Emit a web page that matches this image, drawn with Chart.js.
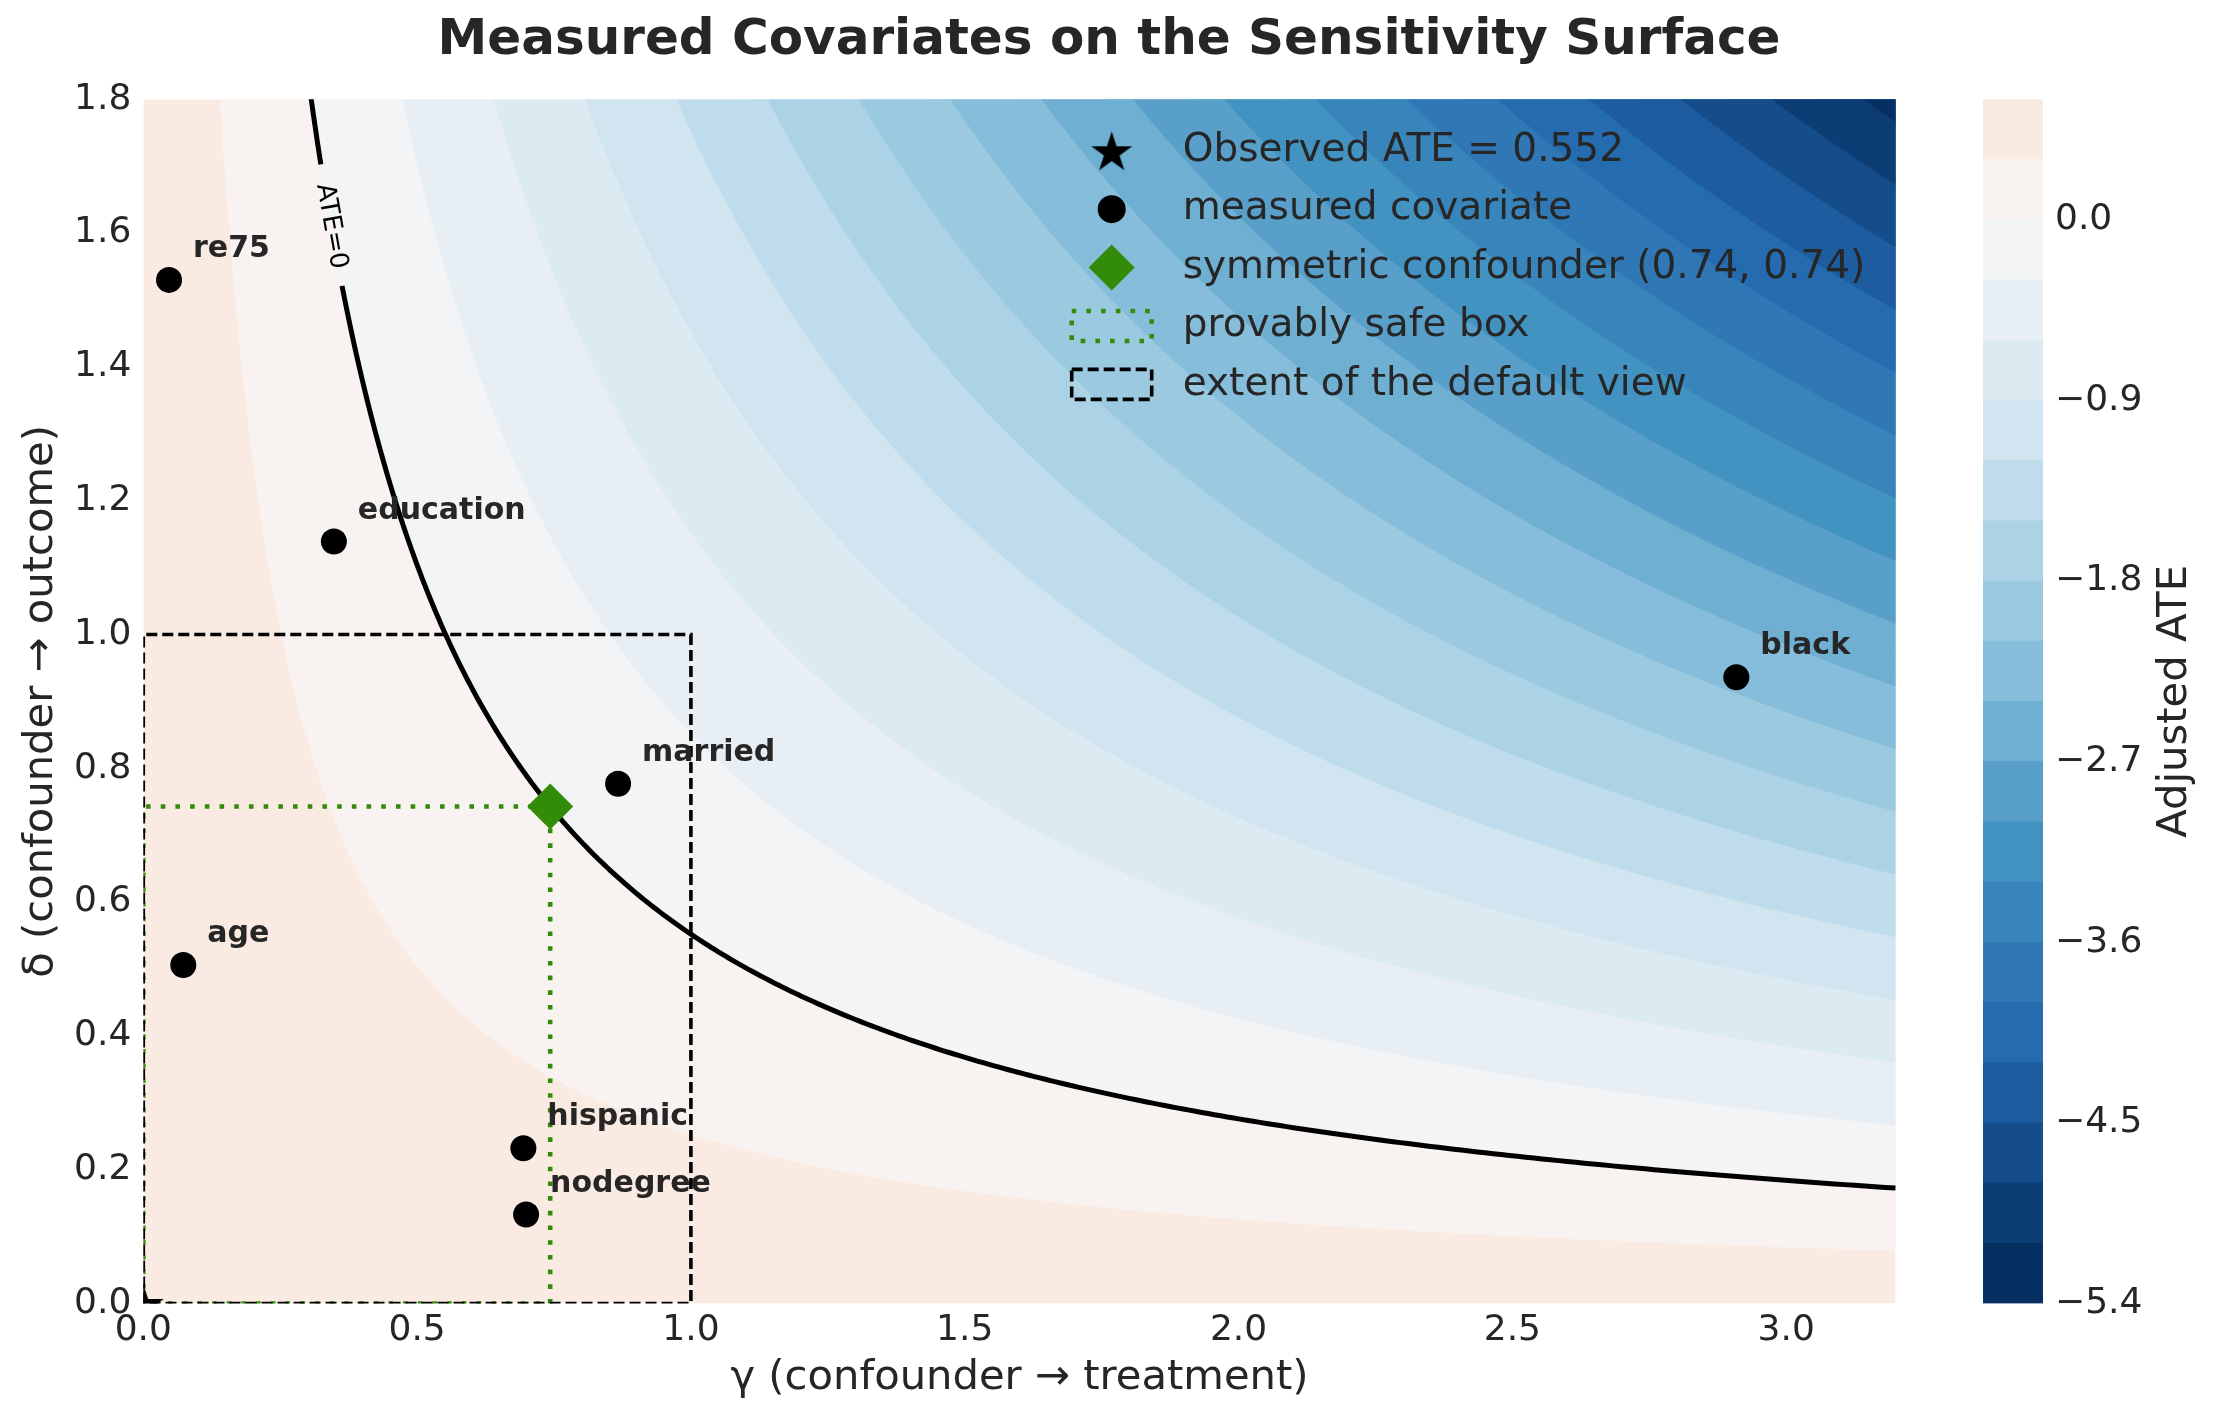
<!DOCTYPE html>
<html>
<head>
<meta charset="utf-8">
<title>Measured Covariates on the Sensitivity Surface</title>
<script src="https://cdn.jsdelivr.net/npm/chart.js@4.4.1/dist/chart.umd.min.js"></script>
<style>
  html, body { margin: 0; padding: 0; background: #fff; overflow: hidden; }
  #wrap { position: relative; width: 2218px; height: 1423px; }
  #wrap canvas { position: absolute; top: 0; }
  #main { left: 0; }
  #cbar { left: 1983px; }
</style>
</head>
<body>
<div id="wrap">
  <canvas id="main" width="2218" height="1423"></canvas>
  <canvas id="cbar" width="235" height="1423"></canvas>
</div>
<script>
// ---- values ----
const observedATE = 0.552;
const gammaMax = 3.2;
const deltaMax = 1.8;
const contourLevels = [-5.4, -5.1, -4.8, -4.5, -4.2, -3.9, -3.6, -3.3, -3.0, -2.7, -2.4,
                       -2.1, -1.8, -1.5, -1.2, -0.9, -0.6, -0.3, 0.0, 0.3, 0.6];
const covNames = ['re75', 'education', 'age', 'married', 'hispanic', 'nodegree', 'black'];
const covGamma = [0.047, 0.348, 0.073, 0.867, 0.694, 0.699, 2.909];
const covDelta = [1.530, 1.139, 0.506, 0.777, 0.232, 0.133, 0.936];
const symConfounder = [0.743, 0.743];
const defaultView = [1.0, 1.0];
const gammaTicks = [0.0, 0.5, 1.0, 1.5, 2.0, 2.5, 3.0];
const deltaTicks = [0.0, 0.2, 0.4, 0.6, 0.8, 1.0, 1.2, 1.4, 1.6, 1.8];
const cbarTicks = [-5.4, -4.5, -3.6, -2.7, -1.8, -0.9, 0.0];
const zeroLabelDelta = 1.61;   // where the "ATE=0" label sits on its contour

// ---- styling ----
const TEXT = '#262626';
const GREEN = '#328c0a';
const FONT = '"DejaVu Sans", sans-serif';
Chart.defaults.font.family = FONT;
Chart.defaults.color = TEXT;

// RdBu reversed, symmetric around zero
const RDBU = ['#67001f', '#b2182b', '#d6604d', '#f4a582', '#fddbc7', '#f7f7f7',
              '#d1e5f0', '#92c5de', '#4393c3', '#2166ac', '#053061'];
const colorLimit = Math.abs(observedATE - gammaMax * deltaMax);
function hexRgb(h) {
  return [parseInt(h.slice(1, 3), 16), parseInt(h.slice(3, 5), 16), parseInt(h.slice(5, 7), 16)];
}
function rdbuR(t) {
  t = Math.min(1, Math.max(0, t));
  const u = (1 - t) * (RDBU.length - 1);
  const i = Math.min(Math.floor(u), RDBU.length - 2);
  const f = u - i;
  const a = hexRgb(RDBU[i]), b = hexRgb(RDBU[i + 1]);
  const c = a.map((v, k) => Math.round(v + (b[k] - v) * f));
  return `rgb(${c[0]},${c[1]},${c[2]})`;
}
function bandColor(lo, hi) {
  const mid = (lo + hi) / 2;
  return rdbuR((mid + colorLimit) / (2 * colorLimit));
}

// points on the iso-line gamma * delta = c (adjusted ATE = observed - gamma*delta)
function isoCurve(c, n) {
  const g0 = c / (deltaMax + 0.05);
  const pts = [];
  for (let i = 0; i <= n; i++) {
    const g = g0 * Math.pow(gammaMax / g0, i / n);
    pts.push({x: g, y: c / g});
  }
  return pts;
}

// filled star marker (matplotlib '*')
function makeStar(R) {
  const cv = document.createElement('canvas');
  cv.width = cv.height = Math.ceil(2 * R + 2);
  const c = cv.getContext('2d');
  const cx = cv.width / 2, cy = cv.height / 2 + R * 0.1;
  const r = R * 0.382;
  c.beginPath();
  for (let i = 0; i < 10; i++) {
    const a = -Math.PI / 2 + i * Math.PI / 5;
    const rr = i % 2 ? r : R;
    c.lineTo(cx + rr * Math.cos(a), cy + rr * Math.sin(a));
  }
  c.closePath();
  c.fillStyle = '#000';
  c.fill();
  return cv;
}
const starImg = makeStar(21.5);

// ---- datasets ----
const datasets = [];
const nL = contourLevels.length;
datasets.push({
  type: 'line', data: [{x: 0, y: 0}, {x: gammaMax, y: 0}],
  fill: 'end', backgroundColor: bandColor(contourLevels[nL - 2], contourLevels[nL - 1]),
  borderColor: 'transparent', borderWidth: 1, pointRadius: 0, order: 1000
});
for (let k = nL - 2; k >= 1; k--) {
  const c = observedATE - contourLevels[k];
  if (c / (deltaMax + 0.05) >= gammaMax) continue;
  datasets.push({
    type: 'line', data: isoCurve(c, 180), fill: 'end',
    backgroundColor: bandColor(contourLevels[k - 1], contourLevels[k]),
    borderColor: 'transparent', borderWidth: 1, pointRadius: 0,
    order: 900 - (nL - 2 - k)
  });
}

const gapLo = 1.517, gapHi = 1.704;
datasets.push({
  type: 'line', data: isoCurve(observedATE, 400), fill: false,
  borderColor: '#000', borderWidth: 5, pointRadius: 0, order: 50,
  segment: {
    borderColor: ctx => {
      const m = (ctx.p0.parsed.y + ctx.p1.parsed.y) / 2;
      return (m > gapLo && m < gapHi) ? 'rgba(0,0,0,0)' : '#000';
    }
  }
});

const s = symConfounder;
datasets.push({
  type: 'line',
  data: [{x: 0, y: 0}, {x: 0, y: s[1]}, {x: s[0], y: s[1]}, {x: s[0], y: 0}, {x: 0, y: 0}],
  fill: false, borderColor: GREEN, borderWidth: 4.6, borderDash: [4.6, 10.1],
  pointRadius: 0, clip: 0, order: 40
});
const dv = defaultView;
datasets.push({
  type: 'line',
  data: [{x: 0, y: 0}, {x: 0, y: dv[1]}, {x: dv[0], y: dv[1]}, {x: dv[0], y: 0}, {x: 0, y: 0}],
  fill: false, borderColor: '#000', borderWidth: 3.6, borderDash: [11, 5],
  pointRadius: 0, clip: 0, order: 30
});
datasets.push({
  type: 'scatter', data: covGamma.map((g, i) => ({x: g, y: covDelta[i]})),
  pointRadius: 13, pointBackgroundColor: '#000', pointBorderWidth: 0, order: 20
});
datasets.push({
  type: 'scatter', data: [{x: s[0], y: s[1]}],
  pointStyle: 'rectRot', pointRadius: 23, pointBackgroundColor: GREEN, pointBorderWidth: 0, order: 10
});
datasets.push({
  type: 'scatter', data: [{x: 0, y: 0}],
  pointStyle: starImg, pointRadius: 21, clip: 0, order: 5
});

// ---- text annotations + legend ----
const legendItems = [
  {kind: 'star', text: `Observed ATE = ${observedATE}`},
  {kind: 'circle', text: 'measured covariate'},
  {kind: 'diamond', text: `symmetric confounder (${s[0].toFixed(2)}, ${s[1].toFixed(2)})`},
  {kind: 'dotbox', text: 'provably safe box'},
  {kind: 'dashbox', text: 'extent of the default view'}
];

const annotations = {
  id: 'annotations',
  afterDatasetsDraw(chart) {
    const {ctx, chartArea: area} = chart;
    const x = chart.scales.x, y = chart.scales.y;
    ctx.save();

    ctx.font = `bold 30px ${FONT}`;
    ctx.fillStyle = TEXT;
    ctx.textAlign = 'left';
    ctx.textBaseline = 'alphabetic';
    covNames.forEach((n, i) => {
      ctx.fillText(n, x.getPixelForValue(covGamma[i]) + 24, y.getPixelForValue(covDelta[i]) - 23);
    });

    // inline contour label
    const lg = observedATE / zeroLabelDelta;
    const px = x.getPixelForValue(lg), py = y.getPixelForValue(zeroLabelDelta);
    const g2 = lg * 1.01;
    const ang = Math.atan2(y.getPixelForValue(observedATE / g2) - py, x.getPixelForValue(g2) - px);
    ctx.save();
    ctx.translate(px, py);
    ctx.rotate(ang);
    ctx.font = `26px ${FONT}`;
    ctx.fillStyle = '#000';
    ctx.textAlign = 'center';
    ctx.textBaseline = 'middle';
    ctx.fillText('ATE=0', 0, 0);
    ctx.restore();

    // legend
    const hx = area.right - 784, tx = area.right - 713;
    const y0 = area.top + 51.5, dy = 58.4;
    const drawPoint = Chart.helpers && Chart.helpers.drawPoint;
    legendItems.forEach((it, i) => {
      const ly = y0 + i * dy;
      ctx.save();
      if (it.kind === 'star') {
        ctx.drawImage(starImg, hx - starImg.width / 2, ly - starImg.height / 2);
      } else if (it.kind === 'circle') {
        ctx.fillStyle = '#000';
        drawPoint(ctx, {pointStyle: 'circle', radius: 14, rotation: 0, borderWidth: 0}, hx, ly);
      } else if (it.kind === 'diamond') {
        ctx.fillStyle = GREEN;
        drawPoint(ctx, {pointStyle: 'rectRot', radius: 23, rotation: 0, borderWidth: 0}, hx, ly);
      } else if (it.kind === 'dotbox') {
        ctx.strokeStyle = GREEN;
        ctx.lineWidth = 4.6;
        ctx.setLineDash([4.6, 10.1]);
        ctx.strokeRect(hx - 40, ly - 15, 80, 30);
      } else {
        ctx.strokeStyle = '#000';
        ctx.lineWidth = 3.6;
        ctx.setLineDash([11, 5]);
        ctx.strokeRect(hx - 40, ly - 15, 80, 30);
      }
      ctx.restore();
      ctx.font = `39px ${FONT}`;
      ctx.fillStyle = TEXT;
      ctx.textAlign = 'left';
      ctx.textBaseline = 'middle';
      ctx.fillText(it.text, tx, ly);
    });
    ctx.restore();
  }
};

const fixTicks = vals => scale => { scale.ticks = vals.map(v => ({value: v})); };

new Chart(document.getElementById('main'), {
  type: 'scatter',
  data: {datasets},
  options: {
    responsive: false,
    animation: false,
    events: [],
    layout: {padding: 0},
    plugins: {
      legend: {display: false},
      tooltip: {enabled: false},
      title: {
        display: true,
        text: 'Measured Covariates on the Sensitivity Surface',
        color: TEXT,
        font: {size: 50, weight: 'bold'},
        padding: {top: 11, bottom: 28.3}
      }
    },
    scales: {
      x: {
        type: 'linear', min: 0, max: gammaMax,
        grid: {display: false, drawTicks: false},
        border: {display: false},
        afterBuildTicks: fixTicks(gammaTicks),
        afterFit: sc => { sc.height = 119.5; },
        ticks: {font: {size: 36}, padding: 5.4, maxRotation: 0, callback: v => v.toFixed(1)},
        title: {display: true, text: 'γ (confounder → treatment)', font: {size: 41.7}, padding: {top: 0, bottom: 19.4}}
      },
      y: {
        type: 'linear', min: 0, max: deltaMax,
        grid: {display: false, drawTicks: false},
        border: {display: false},
        afterBuildTicks: fixTicks(deltaTicks),
        afterFit: sc => { sc.width = 143.3; },
        ticks: {font: {size: 36}, padding: 12, callback: v => v.toFixed(1)},
        title: {display: true, text: 'δ (confounder → outcome)', font: {size: 41.7}, padding: {top: 16, bottom: 0}}
      },
      spacer: {
        type: 'linear', position: 'right', display: true,
        grid: {display: false, drawTicks: false},
        border: {display: false},
        ticks: {display: false},
        afterFit: sc => { sc.width = 322.3; }
      }
    }
  },
  plugins: [annotations]
});

// ---- colour bar ----
const cbarLabel = {
  id: 'cbarLabel',
  afterDraw(chart) {
    const {ctx, chartArea: area} = chart;
    ctx.save();
    ctx.translate(192, (area.top + area.bottom) / 2);
    ctx.rotate(-Math.PI / 2);
    ctx.font = `41.7px ${FONT}`;
    ctx.fillStyle = TEXT;
    ctx.textAlign = 'center';
    ctx.textBaseline = 'middle';
    ctx.fillText('Adjusted ATE', 0, 0);
    ctx.restore();
  }
};

const bandSets = [];
for (let k = 0; k < nL - 1; k++) {
  bandSets.push({
    data: [[contourLevels[k], contourLevels[k + 1]]],
    backgroundColor: bandColor(contourLevels[k], contourLevels[k + 1]),
    borderWidth: 0, grouped: false, barPercentage: 1, categoryPercentage: 1
  });
}

new Chart(document.getElementById('cbar'), {
  type: 'bar',
  data: {labels: [''], datasets: bandSets},
  options: {
    responsive: false,
    animation: false,
    events: [],
    layout: {padding: {top: 99.3, bottom: 119.5, left: 0, right: 0}},
    plugins: {legend: {display: false}, tooltip: {enabled: false}},
    scales: {
      x: {display: false},
      y: {
        type: 'linear', position: 'right',
        min: contourLevels[0], max: contourLevels[nL - 1],
        grid: {display: false, drawTicks: false},
        border: {display: false},
        afterBuildTicks: fixTicks(cbarTicks),
        afterFit: sc => { sc.width = 175; },
        ticks: {
          font: {size: 36}, padding: 12,
          callback: v => (v < 0 ? '\u2212' + Math.abs(v).toFixed(1) : v.toFixed(1))
        }
      }
    }
  },
  plugins: [cbarLabel]
});
</script>
</body>
</html>
